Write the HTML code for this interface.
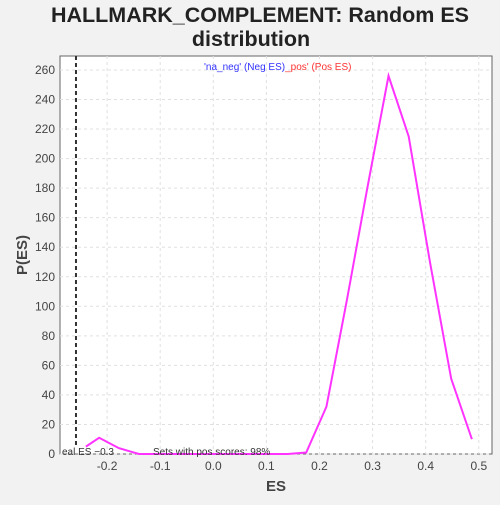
<!DOCTYPE html>
<html><head><meta charset="utf-8"><style>
body{margin:0;background:#f2f2f2;width:500px;height:500px;overflow:hidden;font-family:"Liberation Sans",sans-serif}
</style></head><body>
<svg width="500" height="500">
<text x="260" y="22" text-anchor="middle" font-size="21.5" font-weight="bold" fill="#222">HALLMARK_COMPLEMENT: Random ES</text>
<text x="251" y="46" text-anchor="middle" font-size="21.5" font-weight="bold" fill="#222">distribution</text>
<rect x="60" y="56" width="432" height="398" fill="#fff" stroke="#666"/>
<g id="grid"></g><g id="ticks"></g>
<text x="62" y="455" font-size="10" fill="#333">eal ES −0.3</text>
<line id="realline" y1="56" y2="447" stroke="#333" stroke-width="2" stroke-dasharray="4,3"/>
<polyline id="series" fill="none" stroke="#ff33ff" stroke-width="2"/>
<text x="153" y="455" font-size="10" fill="#333">Sets with pos scores: 98%</text>
<text x="204" y="70" font-size="10"><tspan fill="#3333ff">'na_neg' (Neg ES)</tspan><tspan fill="#ff3333">_pos' (Pos ES)</tspan></text>
<text x="276" y="491" text-anchor="middle" font-size="15" font-weight="bold" fill="#444">ES</text>
<text x="27" y="255" text-anchor="middle" font-size="15" font-weight="bold" fill="#444" transform="rotate(-90 27 255)">P(ES)</text>
</svg>
<script>
const xs=[-0.24,-0.215,-0.178,-0.14,-0.1,-0.05,0,0.05,0.1,0.14,0.175,0.213,0.252,0.29,0.33,0.368,0.408,0.448,0.487];
const ys=[5,11,4,0,0,0,0,0,0,0,1,32,105,180,256,215,130,51,10];
const xTicks=[-0.2,-0.1,0.0,0.1,0.2,0.3,0.4,0.5];
const yTicks=[0,20,40,60,80,100,120,140,160,180,200,220,240,260];
const realES=-0.2586;
const X=v=>213.3+v*531, Y=v=>454-v*1.477;
const ns='http://www.w3.org/2000/svg';
const g=document.getElementById('grid'),t=document.getElementById('ticks');
function mk(tag,a,p){const e=document.createElementNS(ns,tag);for(const k in a)e.setAttribute(k,a[k]);p.appendChild(e);return e;}
xTicks.forEach(v=>{const x=X(v);
let l=mk('line',{x1:x,x2:x,y1:56,y2:454,stroke:'#e0e0e0','stroke-dasharray':'3,3'},g);


let s=mk('text',{x:x,y:470,'text-anchor':'middle','font-size':12,fill:'#444'},t);s.textContent=v.toFixed(1);

});
yTicks.forEach(v=>{const y=Y(v);
let l=mk('line',{x1:60,x2:492,y1:y,y2:y,stroke:'#e0e0e0','stroke-dasharray':'3,3'},g);


let s=mk('text',{x:55,y:y+4,'text-anchor':'end','font-size':12,fill:'#444'},t);s.textContent=v;

});
const rl=document.getElementById('realline');rl.setAttribute('x1',X(realES));rl.setAttribute('x2',X(realES));
document.getElementById('series').setAttribute('points',xs.map((x,i)=>X(x)+','+Y(ys[i])).join(' '));
</script>
</body></html>
